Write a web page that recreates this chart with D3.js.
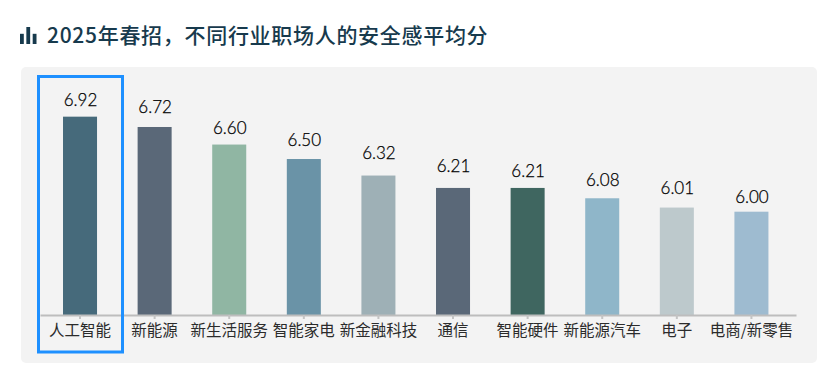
<!DOCTYPE html>
<html>
<head>
<meta charset="utf-8">
<script src="https://cdn.jsdelivr.net/npm/d3@7"></script>
<style>
    html, body { margin: 0; padding: 0; background: #fff; }
    svg { display: block; }
    text { font-family: "Noto Sans CJK SC", sans-serif; }
</style>
</head>
<body>
<svg id="chart" width="838" height="383"></svg>
<script>
const categories = ['人工智能', '新能源', '新生活服务', '智能家电', '新金融科技', '通信', '智能硬件', '新能源汽车', '电子', '电商/新零售']
// printed labels
const valueLabels = ['6.92', '6.72', '6.60', '6.50', '6.32', '6.21', '6.21', '6.08', '6.01', '6.00']
// bar heights as drawn in the picture, they do not follow the labels exactly
const barValues = [6.92, 6.82, 6.65, 6.51, 6.35, 6.23, 6.23, 6.13, 6.04, 6.00]
const barColors = ['#466a7b', '#5a6878', '#90b6a3', '#6a93a7', '#9eb0b6', '#5a6878', '#3f6660', '#8fb6c9', '#bdc9cc', '#9ebbd0']
const iconBars = [0.6, 1, 0.6]
// labels were placed by hand in the original, gap above each bar
const labelGaps = [10.3, 14, 10.3, 13.3, 16.3, 15.7, 11.3, 12.6, 13.4, 8.7]

const svg = d3.select('#chart')
const baseY = 315

svg.append('rect')
    .attr('x', 21).attr('y', 67)
    .attr('width', 796).attr('height', 296)
    .attr('rx', 5)
    .style('fill', '#f3f3f3')

// title
const iconX = d3.scaleBand().domain(d3.range(iconBars.length)).range([20, 36.5]).paddingInner(0.4)
svg.selectAll('rect.icon')
    .data(iconBars)
    .enter()
    .append('rect')
    .attr('class', 'icon')
    .attr('x', (d, i) => iconX(i))
    .attr('y', d => 44 - 17 * d)
    .attr('width', iconX.bandwidth())
    .attr('height', d => 17 * d)
    .style('fill', '#173a4d')

svg.append('text')
    .attr('x', 47).attr('y', 43)
    .style('font-size', '21px')
    .style('font-weight', 500)
    .style('letter-spacing', '0.7px')
    .style('fill', '#173a4d')
    .text('2025年春招，不同行业职场人的安全感平均分')

const xScale = d3.scaleBand()
    .domain(categories)
    .range([40, 796])
    .paddingInner(0.544)
    .paddingOuter(0.339)
    .align(0.455)
const yScale = d3.scaleLinear().domain([5, 7]).range([baseY, 108.4])

svg.selectAll('rect.bar')
    .data(categories)
    .enter()
    .append('rect')
    .attr('class', 'bar')
    .attr('x', d => xScale(d))
    .attr('y', (d, i) => yScale(barValues[i]))
    .attr('width', xScale.bandwidth())
    .attr('height', (d, i) => baseY - yScale(barValues[i]))
    .style('fill', (d, i) => barColors[i])

svg.selectAll('text.value')
    .data(valueLabels)
    .enter()
    .append('text')
    .attr('class', 'value')
    .attr('x', (d, i) => xScale(categories[i]) + xScale.bandwidth() / 2 + 0.5)
    .attr('y', (d, i) => yScale(barValues[i]) - labelGaps[i])
    .attr('text-anchor', 'middle')
    .style('font-family', 'Lato')
    .style('font-weight', 300)
    .style('font-size', '17px')
    .style('fill', '#000')
    .style('stroke', '#000')
    .style('stroke-width', 0.25)
    .text(d => d)

const xAxis = d3.axisBottom(xScale).tickSize(4).tickPadding(6).tickSizeOuter(0)
const axisG = svg.append('g')
    .attr('transform', `translate(0,${baseY})`)
    .call(xAxis)
axisG.select('.domain').style('stroke', '#bdbdbd').style('stroke-width', 2)
axisG.selectAll('.tick line').style('stroke', '#c4c4c4').style('stroke-width', 2)
axisG.selectAll('.tick text')
    .style('font-family', '"Noto Sans CJK SC"')
    .style('font-size', '15.5px')
    .style('fill', '#2b2b2b')

// highlight round the first category
svg.append('rect')
    .attr('x', 38.5).attr('y', 76.5)
    .attr('width', 84).attr('height', 275.5)
    .style('fill', 'none')
    .style('stroke', '#1e90ff')
    .style('stroke-width', 3)
</script>
</body>
</html>
